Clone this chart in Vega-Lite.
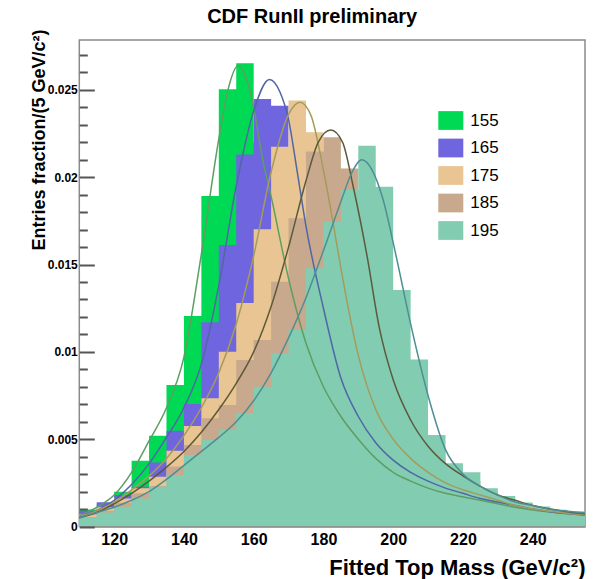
{
  "$schema": "https://vega.github.io/schema/vega-lite/v6.json",
  "width": 505.7,
  "height": 486.5,
  "autosize": {"type": "none"},
  "padding": {"left": 79.3, "top": 40, "right": 13, "bottom": 52.5},
  "background": "white",
  "config": {
    "font": "Liberation Sans",
    "view": {"stroke": "#8a8a8a", "strokeWidth": 1.5},
    "axis": {"labelFont": "Liberation Sans", "titleFont": "Liberation Sans"},
    "legend": {"labelFont": "Liberation Sans"}
  },
  "title": {
    "text": "CDF RunII preliminary",
    "fontSize": 20,
    "fontWeight": "bold",
    "font": "Liberation Sans",
    "color": "#000000",
    "anchor": "middle",
    "dx": -20,
    "offset": 2
  },
  "datasets": {
    "hist": [
      {"s": "155", "m": 110, "v": 0.00098}, {"s": "155", "m": 115, "v": 0.0013}, {"s": "155", "m": 120, "v": 0.00199}, {"s": "155", "m": 125, "v": 0.00377}, {"s": "155", "m": 130, "v": 0.0052}, {"s": "155", "m": 135, "v": 0.0081}, {"s": "155", "m": 140, "v": 0.01206}, {"s": "155", "m": 145, "v": 0.01893}, {"s": "155", "m": 150, "v": 0.02504}, {"s": "155", "m": 155, "v": 0.02653}, {"s": "155", "m": 160, "v": 0.022}, {"s": "155", "m": 165, "v": 0.017}, {"s": "155", "m": 170, "v": 0.0125}, {"s": "155", "m": 175, "v": 0.0095}, {"s": "155", "m": 180, "v": 0.007}, {"s": "155", "m": 185, "v": 0.0056}, {"s": "155", "m": 190, "v": 0.0045}, {"s": "155", "m": 195, "v": 0.0036}, {"s": "155", "m": 200, "v": 0.003}, {"s": "155", "m": 205, "v": 0.0026}, {"s": "155", "m": 210, "v": 0.0022}, {"s": "155", "m": 215, "v": 0.0019}, {"s": "155", "m": 220, "v": 0.0017}, {"s": "155", "m": 225, "v": 0.0015}, {"s": "155", "m": 230, "v": 0.0013}, {"s": "155", "m": 235, "v": 0.0011}, {"s": "155", "m": 240, "v": 0.0009}, {"s": "155", "m": 245, "v": 0.0008}, {"s": "155", "m": 250, "v": 0.0007}, {"s": "155", "m": 255, "v": 0.0007},
      {"s": "165", "m": 110, "v": 0.0009}, {"s": "165", "m": 115, "v": 0.00139}, {"s": "165", "m": 120, "v": 0.0018}, {"s": "165", "m": 125, "v": 0.00228}, {"s": "165", "m": 130, "v": 0.00366}, {"s": "165", "m": 135, "v": 0.00549}, {"s": "165", "m": 140, "v": 0.00702}, {"s": "165", "m": 145, "v": 0.0117}, {"s": "165", "m": 150, "v": 0.01612}, {"s": "165", "m": 155, "v": 0.0213}, {"s": "165", "m": 160, "v": 0.02448}, {"s": "165", "m": 165, "v": 0.0241}, {"s": "165", "m": 170, "v": 0.02}, {"s": "165", "m": 175, "v": 0.015}, {"s": "165", "m": 180, "v": 0.0105}, {"s": "165", "m": 185, "v": 0.0075}, {"s": "165", "m": 190, "v": 0.0055}, {"s": "165", "m": 195, "v": 0.0043}, {"s": "165", "m": 200, "v": 0.0034}, {"s": "165", "m": 205, "v": 0.0028}, {"s": "165", "m": 210, "v": 0.0023}, {"s": "165", "m": 215, "v": 0.002}, {"s": "165", "m": 220, "v": 0.0017}, {"s": "165", "m": 225, "v": 0.0015}, {"s": "165", "m": 230, "v": 0.0013}, {"s": "165", "m": 235, "v": 0.0011}, {"s": "165", "m": 240, "v": 0.0009}, {"s": "165", "m": 245, "v": 0.0008}, {"s": "165", "m": 250, "v": 0.0007}, {"s": "165", "m": 255, "v": 0.0007},
      {"s": "175", "m": 110, "v": 0.0007}, {"s": "175", "m": 115, "v": 0.0011}, {"s": "175", "m": 120, "v": 0.00161}, {"s": "175", "m": 125, "v": 0.00219}, {"s": "175", "m": 130, "v": 0.00285}, {"s": "175", "m": 135, "v": 0.00434}, {"s": "175", "m": 140, "v": 0.00576}, {"s": "175", "m": 145, "v": 0.00734}, {"s": "175", "m": 150, "v": 0.01001}, {"s": "175", "m": 155, "v": 0.0128}, {"s": "175", "m": 160, "v": 0.01702}, {"s": "175", "m": 165, "v": 0.02175}, {"s": "175", "m": 170, "v": 0.02439}, {"s": "175", "m": 175, "v": 0.02258}, {"s": "175", "m": 180, "v": 0.018}, {"s": "175", "m": 185, "v": 0.013}, {"s": "175", "m": 190, "v": 0.0085}, {"s": "175", "m": 195, "v": 0.006}, {"s": "175", "m": 200, "v": 0.0045}, {"s": "175", "m": 205, "v": 0.0035}, {"s": "175", "m": 210, "v": 0.0028}, {"s": "175", "m": 215, "v": 0.0023}, {"s": "175", "m": 220, "v": 0.002}, {"s": "175", "m": 225, "v": 0.0017}, {"s": "175", "m": 230, "v": 0.0014}, {"s": "175", "m": 235, "v": 0.0012}, {"s": "175", "m": 240, "v": 0.001}, {"s": "175", "m": 245, "v": 0.0008}, {"s": "175", "m": 250, "v": 0.0007}, {"s": "175", "m": 255, "v": 0.0007},
      {"s": "185", "m": 110, "v": 0.0005}, {"s": "185", "m": 115, "v": 0.0009}, {"s": "185", "m": 120, "v": 0.00136}, {"s": "185", "m": 125, "v": 0.0019}, {"s": "185", "m": 130, "v": 0.00232}, {"s": "185", "m": 135, "v": 0.00343}, {"s": "185", "m": 140, "v": 0.00467}, {"s": "185", "m": 145, "v": 0.0062}, {"s": "185", "m": 150, "v": 0.00696}, {"s": "185", "m": 155, "v": 0.00954}, {"s": "185", "m": 160, "v": 0.01068}, {"s": "185", "m": 165, "v": 0.01402}, {"s": "185", "m": 170, "v": 0.01765}, {"s": "185", "m": 175, "v": 0.02148}, {"s": "185", "m": 180, "v": 0.02229}, {"s": "185", "m": 185, "v": 0.0205}, {"s": "185", "m": 190, "v": 0.0175}, {"s": "185", "m": 195, "v": 0.0125}, {"s": "185", "m": 200, "v": 0.0085}, {"s": "185", "m": 205, "v": 0.006}, {"s": "185", "m": 210, "v": 0.0045}, {"s": "185", "m": 215, "v": 0.0033}, {"s": "185", "m": 220, "v": 0.0026}, {"s": "185", "m": 225, "v": 0.002}, {"s": "185", "m": 230, "v": 0.0015}, {"s": "185", "m": 235, "v": 0.0012}, {"s": "185", "m": 240, "v": 0.001}, {"s": "185", "m": 245, "v": 0.0008}, {"s": "185", "m": 250, "v": 0.0007}, {"s": "185", "m": 255, "v": 0.0007},
      {"s": "195", "m": 110, "v": 0.00055}, {"s": "195", "m": 115, "v": 0.0008}, {"s": "195", "m": 120, "v": 0.00113}, {"s": "195", "m": 125, "v": 0.00161}, {"s": "195", "m": 130, "v": 0.00228}, {"s": "195", "m": 135, "v": 0.00295}, {"s": "195", "m": 140, "v": 0.0041}, {"s": "195", "m": 145, "v": 0.00495}, {"s": "195", "m": 150, "v": 0.00553}, {"s": "195", "m": 155, "v": 0.0065}, {"s": "195", "m": 160, "v": 0.008}, {"s": "195", "m": 165, "v": 0.00992}, {"s": "195", "m": 170, "v": 0.01125}, {"s": "195", "m": 175, "v": 0.01479}, {"s": "195", "m": 180, "v": 0.01746}, {"s": "195", "m": 185, "v": 0.01927}, {"s": "195", "m": 190, "v": 0.02181}, {"s": "195", "m": 195, "v": 0.01946}, {"s": "195", "m": 200, "v": 0.01354}, {"s": "195", "m": 205, "v": 0.00957}, {"s": "195", "m": 210, "v": 0.00524}, {"s": "195", "m": 215, "v": 0.00362}, {"s": "195", "m": 220, "v": 0.0031}, {"s": "195", "m": 225, "v": 0.00219}, {"s": "195", "m": 230, "v": 0.00175}, {"s": "195", "m": 235, "v": 0.00138}, {"s": "195", "m": 240, "v": 0.00115}, {"s": "195", "m": 245, "v": 0.00096}, {"s": "195", "m": 250, "v": 0.00087}, {"s": "195", "m": 255, "v": 0.00087}
    ],
    "fit": [
      {"s": "155", "m": 110, "v": 0.0006}, {"s": "155", "m": 115, "v": 0.0011}, {"s": "155", "m": 120, "v": 0.0018}, {"s": "155", "m": 125, "v": 0.0031}, {"s": "155", "m": 130, "v": 0.0049}, {"s": "155", "m": 135, "v": 0.0068}, {"s": "155", "m": 140, "v": 0.0097}, {"s": "155", "m": 145, "v": 0.0156}, {"s": "155", "m": 150, "v": 0.0222}, {"s": "155", "m": 152.5, "v": 0.0249}, {"s": "155", "m": 155.6, "v": 0.0264}, {"s": "155", "m": 158, "v": 0.0256}, {"s": "155", "m": 160, "v": 0.024}, {"s": "155", "m": 162.5, "v": 0.0211}, {"s": "155", "m": 165, "v": 0.0189}, {"s": "155", "m": 170, "v": 0.0142}, {"s": "155", "m": 175, "v": 0.0105}, {"s": "155", "m": 180, "v": 0.008}, {"s": "155", "m": 185, "v": 0.0063}, {"s": "155", "m": 190, "v": 0.005}, {"s": "155", "m": 195, "v": 0.0039}, {"s": "155", "m": 200, "v": 0.0031}, {"s": "155", "m": 205, "v": 0.0026}, {"s": "155", "m": 210, "v": 0.0022}, {"s": "155", "m": 215, "v": 0.0019}, {"s": "155", "m": 220, "v": 0.0017}, {"s": "155", "m": 225, "v": 0.0015}, {"s": "155", "m": 230, "v": 0.0013}, {"s": "155", "m": 235, "v": 0.0011}, {"s": "155", "m": 240, "v": 0.00095}, {"s": "155", "m": 245, "v": 0.00083}, {"s": "155", "m": 250, "v": 0.00073}, {"s": "155", "m": 255, "v": 0.00065},
      {"s": "165", "m": 110, "v": 0.0005}, {"s": "165", "m": 115, "v": 0.0009}, {"s": "165", "m": 120, "v": 0.0015}, {"s": "165", "m": 125, "v": 0.0024}, {"s": "165", "m": 130, "v": 0.0036}, {"s": "165", "m": 135, "v": 0.0051}, {"s": "165", "m": 140, "v": 0.0068}, {"s": "165", "m": 145, "v": 0.0093}, {"s": "165", "m": 150, "v": 0.0138}, {"s": "165", "m": 155, "v": 0.0195}, {"s": "165", "m": 160, "v": 0.0238}, {"s": "165", "m": 164.5, "v": 0.0256}, {"s": "165", "m": 167.5, "v": 0.0249}, {"s": "165", "m": 170, "v": 0.0233}, {"s": "165", "m": 172.5, "v": 0.0203}, {"s": "165", "m": 175, "v": 0.0172}, {"s": "165", "m": 180, "v": 0.0125}, {"s": "165", "m": 185, "v": 0.0085}, {"s": "165", "m": 190, "v": 0.0063}, {"s": "165", "m": 195, "v": 0.0048}, {"s": "165", "m": 200, "v": 0.0038}, {"s": "165", "m": 205, "v": 0.0031}, {"s": "165", "m": 210, "v": 0.0026}, {"s": "165", "m": 215, "v": 0.0022}, {"s": "165", "m": 220, "v": 0.0019}, {"s": "165", "m": 225, "v": 0.0016}, {"s": "165", "m": 230, "v": 0.0014}, {"s": "165", "m": 235, "v": 0.0012}, {"s": "165", "m": 240, "v": 0.001}, {"s": "165", "m": 245, "v": 0.00085}, {"s": "165", "m": 250, "v": 0.00074}, {"s": "165", "m": 255, "v": 0.00066},
      {"s": "175", "m": 110, "v": 0.0005}, {"s": "175", "m": 115, "v": 0.0009}, {"s": "175", "m": 120, "v": 0.0014}, {"s": "175", "m": 125, "v": 0.0021}, {"s": "175", "m": 130, "v": 0.0029}, {"s": "175", "m": 135, "v": 0.0039}, {"s": "175", "m": 140, "v": 0.0052}, {"s": "175", "m": 145, "v": 0.0068}, {"s": "175", "m": 150, "v": 0.0088}, {"s": "175", "m": 155, "v": 0.0116}, {"s": "175", "m": 160, "v": 0.0155}, {"s": "175", "m": 165, "v": 0.0203}, {"s": "175", "m": 170, "v": 0.0236}, {"s": "175", "m": 173.3, "v": 0.0243}, {"s": "175", "m": 176.5, "v": 0.0235}, {"s": "175", "m": 180, "v": 0.0204}, {"s": "175", "m": 182.5, "v": 0.0177}, {"s": "175", "m": 185, "v": 0.0148}, {"s": "175", "m": 190, "v": 0.0098}, {"s": "175", "m": 195, "v": 0.0067}, {"s": "175", "m": 200, "v": 0.005}, {"s": "175", "m": 205, "v": 0.0039}, {"s": "175", "m": 210, "v": 0.0031}, {"s": "175", "m": 215, "v": 0.0025}, {"s": "175", "m": 220, "v": 0.0021}, {"s": "175", "m": 225, "v": 0.0018}, {"s": "175", "m": 230, "v": 0.0015}, {"s": "175", "m": 235, "v": 0.0012}, {"s": "175", "m": 240, "v": 0.001}, {"s": "175", "m": 245, "v": 0.00087}, {"s": "175", "m": 250, "v": 0.00076}, {"s": "175", "m": 255, "v": 0.00067},
      {"s": "185", "m": 110, "v": 0.0005}, {"s": "185", "m": 115, "v": 0.0008}, {"s": "185", "m": 120, "v": 0.0013}, {"s": "185", "m": 125, "v": 0.0019}, {"s": "185", "m": 130, "v": 0.0026}, {"s": "185", "m": 135, "v": 0.0034}, {"s": "185", "m": 140, "v": 0.0043}, {"s": "185", "m": 145, "v": 0.0054}, {"s": "185", "m": 150, "v": 0.0067}, {"s": "185", "m": 155, "v": 0.0082}, {"s": "185", "m": 160, "v": 0.01}, {"s": "185", "m": 165, "v": 0.0126}, {"s": "185", "m": 170, "v": 0.016}, {"s": "185", "m": 175, "v": 0.0198}, {"s": "185", "m": 178.5, "v": 0.022}, {"s": "185", "m": 182.1, "v": 0.0227}, {"s": "185", "m": 185.5, "v": 0.022}, {"s": "185", "m": 188.5, "v": 0.0195}, {"s": "185", "m": 192.5, "v": 0.0155}, {"s": "185", "m": 196, "v": 0.0114}, {"s": "185", "m": 200, "v": 0.0084}, {"s": "185", "m": 205, "v": 0.0061}, {"s": "185", "m": 210, "v": 0.0046}, {"s": "185", "m": 215, "v": 0.0036}, {"s": "185", "m": 220, "v": 0.0029}, {"s": "185", "m": 225, "v": 0.0023}, {"s": "185", "m": 230, "v": 0.0018}, {"s": "185", "m": 235, "v": 0.0015}, {"s": "185", "m": 240, "v": 0.0012}, {"s": "185", "m": 245, "v": 0.001}, {"s": "185", "m": 250, "v": 0.00085}, {"s": "185", "m": 255, "v": 0.00073},
      {"s": "195", "m": 110, "v": 0.0005}, {"s": "195", "m": 115, "v": 0.0008}, {"s": "195", "m": 120, "v": 0.0011}, {"s": "195", "m": 125, "v": 0.0015}, {"s": "195", "m": 130, "v": 0.002}, {"s": "195", "m": 135, "v": 0.0027}, {"s": "195", "m": 140, "v": 0.0035}, {"s": "195", "m": 145, "v": 0.0043}, {"s": "195", "m": 150, "v": 0.0051}, {"s": "195", "m": 155, "v": 0.006}, {"s": "195", "m": 160, "v": 0.0072}, {"s": "195", "m": 165, "v": 0.0088}, {"s": "195", "m": 170, "v": 0.0108}, {"s": "195", "m": 175, "v": 0.0131}, {"s": "195", "m": 180, "v": 0.0158}, {"s": "195", "m": 185, "v": 0.0186}, {"s": "195", "m": 188, "v": 0.0202}, {"s": "195", "m": 191, "v": 0.021}, {"s": "195", "m": 194, "v": 0.0204}, {"s": "195", "m": 197, "v": 0.0188}, {"s": "195", "m": 200.5, "v": 0.0158}, {"s": "195", "m": 205, "v": 0.0116}, {"s": "195", "m": 210, "v": 0.0075}, {"s": "195", "m": 215, "v": 0.0044}, {"s": "195", "m": 220, "v": 0.003}, {"s": "195", "m": 225, "v": 0.0023}, {"s": "195", "m": 230, "v": 0.0018}, {"s": "195", "m": 235, "v": 0.0014}, {"s": "195", "m": 240, "v": 0.0012}, {"s": "195", "m": 245, "v": 0.00099}, {"s": "195", "m": 250, "v": 0.00087}, {"s": "195", "m": 255, "v": 0.00077}
    ]
  },
  "encoding": {
    "x": {
      "field": "m",
      "type": "quantitative",
      "scale": {"domain": [110, 255], "nice": false, "zero": false},
      "axis": {
        "values": [120, 140, 160, 180, 200, 220, 240],
        "tickSize": 0,
        "domain": true,
        "domainColor": "#8a8a8a",
        "domainWidth": 1.5,
        "gridOpacity": 0,
        "zindex": 1,
        "labelFontSize": 16,
        "labelFontWeight": "bold",
        "labelColor": "#000000",
        "labelPadding": 5,
        "title": "Fitted Top Mass (GeV/c²)",
        "titleFontSize": 22,
        "titleFontWeight": "bold",
        "titleColor": "#000000",
        "titleAnchor": "end",
        "titleAlign": "right",
        "titleBaseline": "alphabetic",
        "titleX": 505.7,
        "titleY": 47.5
      }
    },
    "y": {
      "field": "v",
      "type": "quantitative",
      "stack": null,
      "scale": {"domain": [0, 0.02786], "nice": false, "zero": true},
      "axis": {
        "orient": "left",
        "offset": -15,
        "values": [0, 0.005, 0.01, 0.015, 0.02, 0.025],
        "tickSize": 15,
        "tickColor": "#555555",
        "tickWidth": 2,
        "format": ".3~f",
        "labelFontSize": 12,
        "labelFontWeight": "bold",
        "labelColor": "#000000",
        "labelPadding": 2,
        "domain": false,
        "gridOpacity": 0,
        "zindex": 1,
        "title": "Entries fraction/(5 GeV/c²)",
        "titleFontSize": 18,
        "titleFontWeight": "bold",
        "titleColor": "#000000",
        "titleAngle": -90,
        "titleAlign": "right",
        "titleBaseline": "alphabetic",
        "titleX": -50,
        "titleY": -11
      }
    }
  },
  "layer": [
    {
      "layer": [
        {
          "data": {"name": "hist"},
          "transform": [{"filter": {"field": "s", "equal": "155"}}],
          "mark": {"type": "area", "interpolate": "step-after", "opacity": 1},
          "encoding": {
            "color": {
              "field": "s", "type": "nominal",
              "scale": {"domain": ["155", "165", "175", "185", "195"], "range": ["#00D953", "#6F65DF", "#E8C592", "#C9A98D", "#82CCB1"]},
              "legend": {"orient": "none", "legendX": 359, "legendY": 68, "title": null, "symbolType": "M-1,-0.75H1V0.75H-1Z", "symbolSize": 625, "symbolStrokeWidth": 0, "symbolOpacity": 1, "labelFontSize": 17, "labelColor": "#000000", "labelOffset": 7, "rowPadding": 5.5, "padding": 0}
            }
          }
        },
        {
          "data": {"name": "hist"},
          "transform": [{"filter": {"field": "s", "equal": "165"}}],
          "mark": {"type": "area", "interpolate": "step-after", "opacity": 1},
          "encoding": {"color": {"field": "s", "type": "nominal"}}
        },
        {
          "data": {"name": "hist"},
          "transform": [{"filter": {"field": "s", "equal": "175"}}],
          "mark": {"type": "area", "interpolate": "step-after", "opacity": 1},
          "encoding": {"color": {"field": "s", "type": "nominal"}}
        },
        {
          "data": {"name": "hist"},
          "transform": [{"filter": {"field": "s", "equal": "185"}}],
          "mark": {"type": "area", "interpolate": "step-after", "opacity": 1},
          "encoding": {"color": {"field": "s", "type": "nominal"}}
        },
        {
          "data": {"name": "hist"},
          "transform": [{"filter": {"field": "s", "equal": "195"}}],
          "mark": {"type": "area", "interpolate": "step-after", "opacity": 1},
          "encoding": {"color": {"field": "s", "type": "nominal"}}
        }
      ]
    },
    {
      "data": {"name": "fit"},
      "mark": {"type": "line", "interpolate": "monotone", "strokeWidth": 1.5},
      "encoding": {
        "y": {
          "field": "v",
          "type": "quantitative",
          "axis": {
            "orient": "left",
            "offset": -8,
            "values": [0.001, 0.002, 0.003, 0.004, 0.006, 0.007, 0.008, 0.009, 0.011, 0.012, 0.013, 0.014, 0.016, 0.017, 0.018, 0.019, 0.021, 0.022, 0.023, 0.024, 0.026, 0.027],
            "tickSize": 8,
            "tickColor": "#555555",
            "tickWidth": 2,
            "labels": false,
            "domain": false,
            "gridOpacity": 0,
            "zindex": 1,
            "title": null
          }
        },
        "stroke": {
          "field": "s", "type": "nominal",
          "scale": {"domain": ["155", "165", "175", "185", "195"], "range": ["#5E9E63", "#5166A6", "#A59B5C", "#5C5A3C", "#4F8E94"]},
          "legend": null
        }
      }
    }
  ],
  "resolve": {"axis": {"y": "independent"}}
}
